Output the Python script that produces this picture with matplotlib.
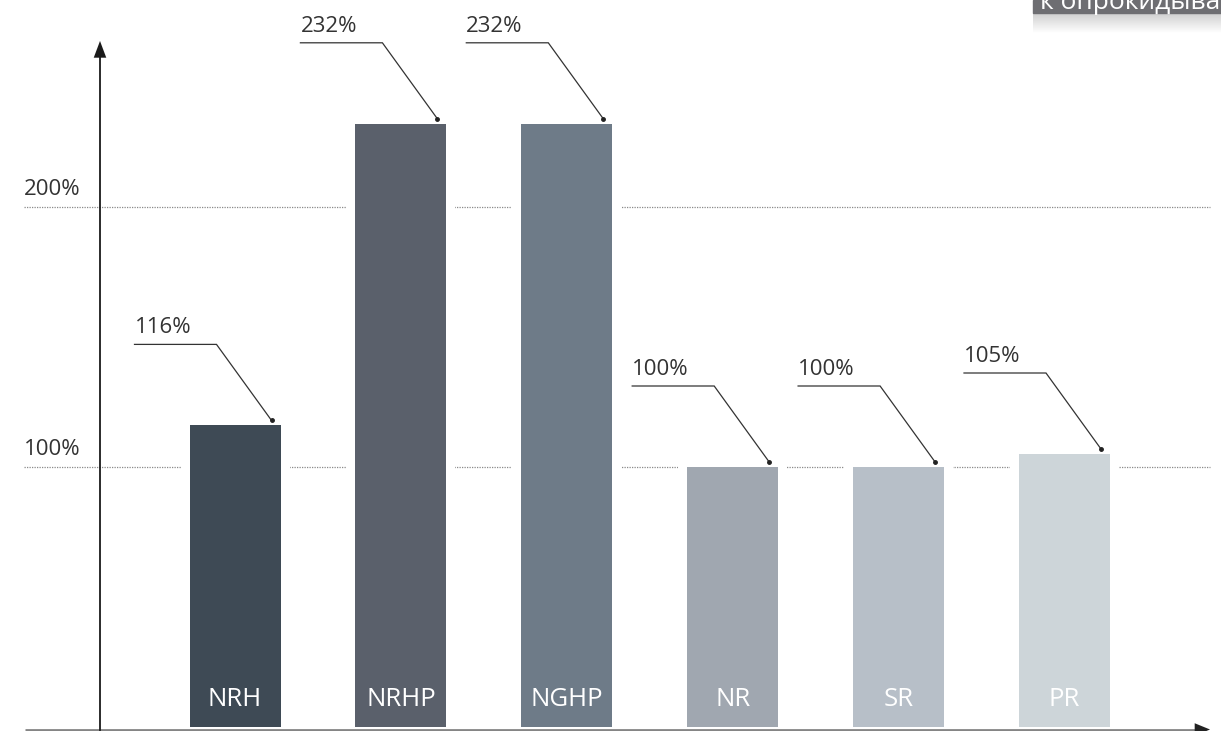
import matplotlib.pyplot as plt
import numpy as np
from matplotlib.patches import Rectangle
from matplotlib.colors import LinearSegmentedColormap

plt.rcParams['font.family'] = ['Open Sans', 'DejaVu Sans']

# bar data
categories = ['NRH', 'NRHP', 'NGHP', 'NR', 'SR', 'PR']
values = [116, 232, 232, 100, 100, 105]
value_labels = ['116%', '232%', '232%', '100%', '100%', '105%']
bar_colors = ['#3e4a55', '#5a606b', '#6e7b88', '#a0a7b0', '#b7bfc8', '#cdd5d9']
grid_levels = [100, 200]
grid_labels = ['100%', '200%']
header_text = 'к опрокидыванию'

W, H = 1221, 731
fig = plt.figure(figsize=(W / 100, H / 100), dpi=100)
ax = fig.add_axes([0, 0, 1, 1])
ax.set_axis_off()

# pixel <-> data scale
px_x = 165.9   # pixels per category step
px_y = 2.6     # pixels per percent
x0_px = 235    # centre of first bar
y100_px = 467  # pixel row of the 100% line
ax.set_xlim(-x0_px / px_x, (W - x0_px) / px_x)
ax.set_ylim(100 - (H - y100_px) / px_y, 100 + y100_px / px_y)

def dx(p):
    return p / px_x

def dy(p):
    return p / px_y

def xpx(p):
    return (p - x0_px) / px_x

x = np.arange(len(categories))
bw = dx(91)
label_fs = 16
text_col = '#333333'

# dotted reference lines with their labels
for lvl, lab in zip(grid_levels, grid_labels):
    ax.plot([xpx(24), xpx(1210)], [lvl, lvl], color='#8a8a8a', lw=0.9,
            ls=(0, (1, 1)), zorder=1)
    ax.text(xpx(24), lvl + dy(12), lab, fontsize=label_fs, color=text_col,
            ha='left', va='baseline', zorder=5)

# white backing so grid lines stop short of each bar
ax.bar(x, np.array(values) + dy(9), width=bw + 2 * dx(9), bottom=0,
       color='white', zorder=2)
ax.bar(x, values, width=bw, color=bar_colors, zorder=3)

for xi, name in zip(x, categories):
    ax.text(xi, dy(21), name, color='white', fontsize=18.5, ha='center',
            va='baseline', zorder=4)

# leader lines to the top-right corner of every bar
for xi, v, lab in zip(x, values, value_labels):
    tip_x = xi + bw / 2 - dx(9)
    tip_y = v + dy(5)
    elbow_x = tip_x - dx(55)
    elbow_y = tip_y + dy(76)
    start_x = elbow_x - dx(82)
    ax.plot([start_x, elbow_x, tip_x], [elbow_y, elbow_y, tip_y],
            color=text_col, lw=0.9, zorder=5, solid_joinstyle='miter')
    ax.plot(tip_x, tip_y, 'o', ms=2.5, color='#222222', zorder=6)
    ax.text(start_x, elbow_y + dy(11), lab, fontsize=label_fs, color=text_col,
            ha='left', va='baseline', zorder=5)

# axes with arrows
base = -dy(2.5)
ax.plot([xpx(25), xpx(1196)], [base, base], color='#858585', lw=2, zorder=4,
        solid_capstyle='butt')
ax.annotate('', xy=(xpx(1210), base), xytext=(xpx(1190), base),
            arrowprops=dict(arrowstyle='-|>,head_length=1.1,head_width=0.45',
                            color='#222222', lw=0.01, shrinkA=0, shrinkB=0),
            zorder=5)
ax.plot([xpx(100), xpx(100)], [base, 100 + dy(467 - 56)], color='#1a1a1a',
        lw=1.3, zorder=4)
ax.annotate('', xy=(xpx(100), 100 + dy(467 - 41)),
            xytext=(xpx(100), 100 + dy(467 - 58)),
            arrowprops=dict(arrowstyle='-|>,head_length=1.2,head_width=0.45',
                            color='#1a1a1a', lw=0.01, shrinkA=0, shrinkB=0),
            zorder=5)

# header tab in the top-right corner, with a soft shadow under it
bx0, bh, sh = 1033, 13, 20
shadow = fig.add_axes([bx0 / W, (H - bh - sh) / H, (W - bx0) / W, sh / H])
shadow.set_axis_off()
fade = LinearSegmentedColormap.from_list('fade', ['#cfcfcf', '#ffffff'])
grad = np.linspace(0, 1, 64).reshape(-1, 1)
shadow.imshow(grad, cmap=fade, aspect='auto', extent=[0, 1, 0, 1],
              origin='upper')
shadow.set_xlim(0, 1)
shadow.set_ylim(0, 1)
fig.patches.append(Rectangle((bx0 / W, (H - bh) / H), (W - bx0) / W, bh / H,
                             transform=fig.transFigure, color='#6e6e72',
                             zorder=10))
fig.text(1040 / W, (H - 9) / H, header_text, color='white', fontsize=19,
         ha='left', va='baseline', zorder=11)

fig.savefig('out.png', dpi=100)
